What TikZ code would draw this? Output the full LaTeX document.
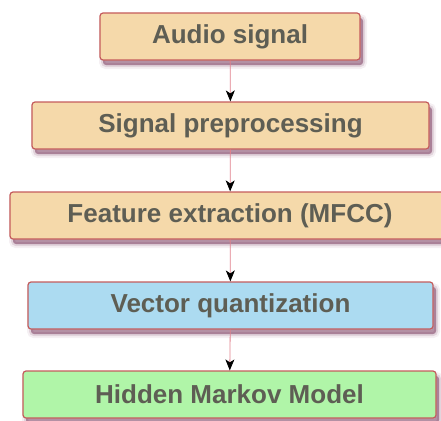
\documentclass[tikz,border=0pt]{standalone}
\usepackage{fontspec}
\setmainfont{Liberation Sans}
\usetikzlibrary{arrows.meta}

\definecolor{boxline}{RGB}{196,92,92}
\definecolor{stagefill}{RGB}{245,217,170}
\definecolor{vqfill}{RGB}{172,219,241}
\definecolor{hmmfill}{RGB}{176,245,168}
\definecolor{labeltext}{RGB}{94,94,84}
\definecolor{linkline}{RGB}{224,128,140}
\definecolor{shadowtone}{RGB}{110,40,80}

\begin{document}
\begin{tikzpicture}[
  x=1pt, y=1pt,
  >={Stealth[color=black, length=11pt, width=9pt, inset=3pt]},
  softshadow/.style={
    preaction={draw=shadowtone, fill=shadowtone, line width=8pt, opacity=0.07,
      transform canvas={shift={(3pt,-5pt)}}},
    preaction={draw=shadowtone, fill=shadowtone, line width=4pt, opacity=0.14,
      transform canvas={shift={(3pt,-5pt)}}},
    preaction={fill=shadowtone, opacity=0.35,
      transform canvas={shift={(3pt,-5pt)}}}},
  stage/.style={draw=boxline, line width=1.2pt, rounded corners=3pt, fill=stagefill,
    softshadow, minimum height=47pt, inner sep=0pt, text=labeltext,
    font=\fontsize{26}{30}\selectfont\bfseries},
  link/.style={draw=linkline, line width=0.8pt, ->}
]
  \useasboundingbox (0,0) rectangle (441,-420);
  \node[stage, minimum width=260pt] (audio) at (230,-36.5) {Audio signal};
  \node[stage, minimum width=397pt] (prep) at (230.5,-125.5) {Signal preprocessing};
  \node[stage, minimum width=440pt] (mfcc) at (230,-215.5) {Feature extraction (MFCC)};
  \node[stage, minimum width=405pt, fill=vqfill] (vq) at (230.5,-305.5) {Vector quantization};
  \node[stage, minimum width=413pt, fill=hmmfill] (hmm) at (229.5,-394.5) {Hidden Markov Model};
  % arrows between stages
  \draw[link] (audio) -- (prep);
  \draw[link] (prep) -- (mfcc);
  \draw[link] (mfcc) -- (vq);
  \draw[link] (vq) -- (hmm);
\end{tikzpicture}
\end{document}
